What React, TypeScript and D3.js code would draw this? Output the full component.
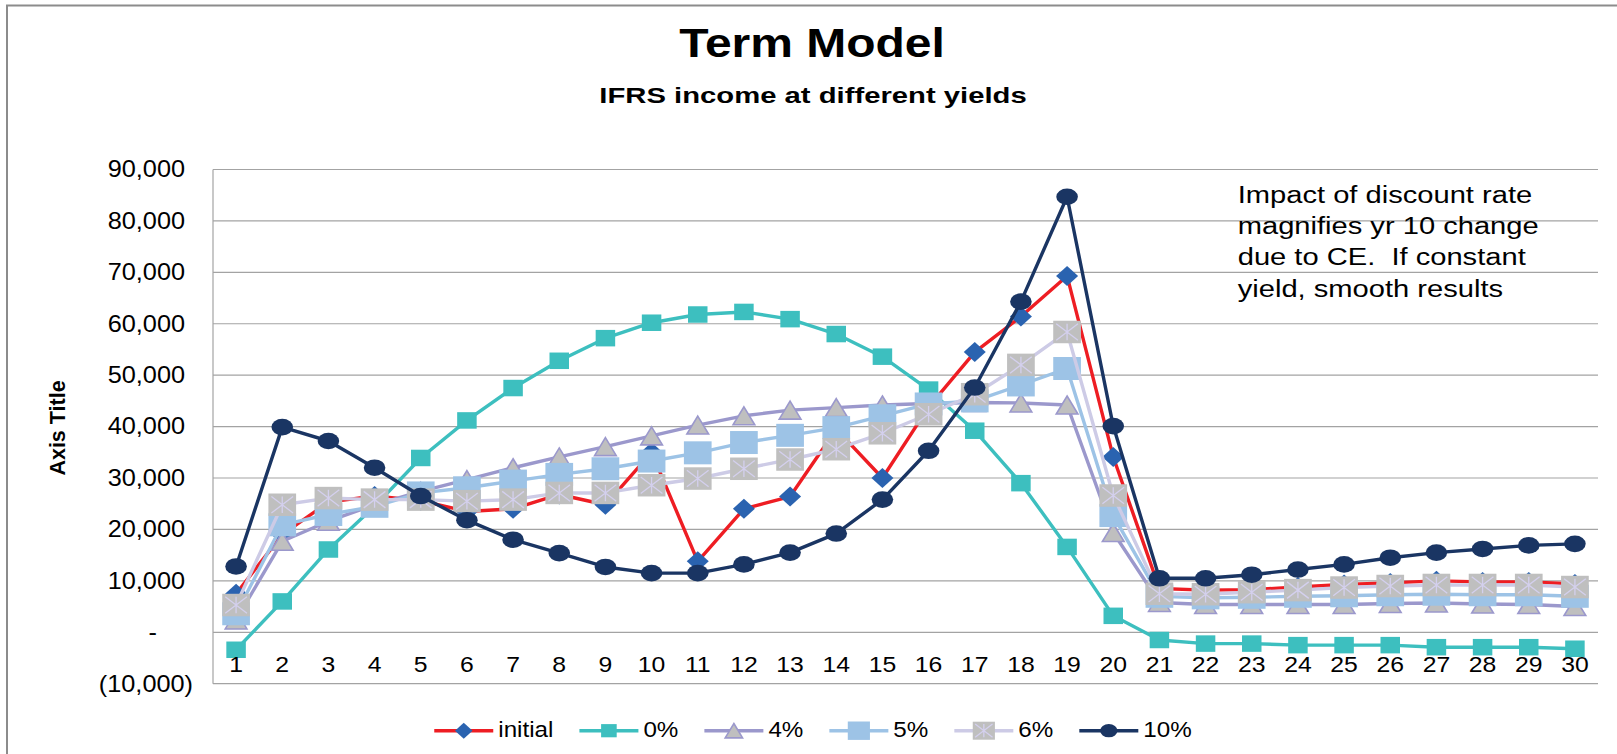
import React, { useEffect } from 'react';
import * as d3 from 'd3';

// ---------------- DATA ----------------
const categories = ['1','2','3','4','5','6','7','8','9','10','11','12','13','14','15','16','17','18','19','20','21','22','23','24','25','26','27','28','29','30'];

const seriesNames = ['initial', '0%', '4%', '5%', '6%', '10%'];

const initialVals = [7500, 19000, 25300, 26500, 25600, 23500, 24000, 26800, 24800, 35000, 13800, 24000, 26400, 39500, 30000, 43800, 54500, 61400, 69300, 34100, 8500, 8200, 8300, 8800, 9300, 9600, 10000, 9800, 9800, 9400];
const zeroVals = [-3400, 6000, 16100, 24500, 33900, 41200, 47500, 52800, 57200, 60200, 61800, 62300, 60900, 58000, 53600, 47200, 39200, 29000, 16600, 3200, -1500, -2200, -2200, -2500, -2500, -2500, -2900, -2900, -2900, -3200];
const fourVals = [2400, 17700, 21600, 24800, 27400, 29700, 32000, 34100, 36100, 38200, 40300, 42100, 43200, 43700, 44200, 44500, 44700, 44600, 44200, 19400, 5800, 5400, 5400, 5400, 5400, 5600, 5700, 5500, 5400, 5000];
const fiveVals = [3600, 20900, 22900, 24500, 27100, 28100, 29400, 30700, 31800, 33300, 34900, 36900, 38300, 39800, 42100, 44400, 45000, 48100, 51300, 22700, 7000, 6700, 6800, 7000, 7100, 7300, 7400, 7300, 7300, 7000];
const sixVals = [5300, 24800, 26100, 25800, 25800, 25500, 25800, 27100, 27100, 28600, 29900, 31800, 33600, 35600, 38700, 42400, 46300, 52000, 58400, 26600, 7500, 7400, 7800, 8200, 8700, 9000, 9200, 9200, 9200, 8800];
const tenVals = [12800, 39900, 37200, 32000, 26500, 21800, 18000, 15400, 12700, 11500, 11500, 13200, 15500, 19200, 25800, 35300, 47600, 64300, 84700, 40100, 10500, 10500, 11200, 12200, 13200, 14500, 15500, 16200, 16900, 17200];

const yTicks = [-10000, 0, 10000, 20000, 30000, 40000, 50000, 60000, 70000, 80000, 90000];
const yTickLabels = ['(10,000)', '-', '10,000', '20,000', '30,000', '40,000', '50,000', '60,000', '70,000', '80,000', '90,000'];

const titleText = 'Term Model';
const subtitleText = 'IFRS income at different yields';
const axisTitleText = 'Axis Title';
const noteLines = ['Impact of discount rate', 'magnifies yr 10 change', 'due to CE.  If constant', 'yield, smooth results'];

// ---------------- STYLES ----------------
const W = 1617, H = 754;
const FONT = '"Liberation Sans", Arial, Helvetica, sans-serif';
const PLOT = { left: 213, right: 1598, top: 169.5, bottom: 683.7 };

type Kind = 'diamond' | 'square0' | 'triangle' | 'square5' | 'square6' | 'circle';
const styles: { line: string; kind: Kind }[] = [
  { line: '#EE1D23', kind: 'diamond' },
  { line: '#3DBFBF', kind: 'square0' },
  { line: '#9B98CC', kind: 'triangle' },
  { line: '#9DC3E6', kind: 'square5' },
  { line: '#CDCBE6', kind: 'square6' },
  { line: '#1A3563', kind: 'circle' },
];
const seriesValues = [initialVals, zeroVals, fourVals, fiveVals, sixVals, tenVals];

function Marker({ kind, x, y, s = 1 }: { kind: Kind; x: number; y: number; s?: number }) {
  if (kind === 'diamond') {
    const w = 22 * s, h = 20 * s;
    return <path d={`M${x},${y - h / 2}L${x + w / 2},${y}L${x},${y + h / 2}L${x - w / 2},${y}Z`} fill="#2A63B0" />;
  }
  if (kind === 'square0') {
    const w = 19.5 * s, h = 16.5 * s;
    return <rect x={x - w / 2} y={y - h / 2} width={w} height={h} fill="#3DBFBF" />;
  }
  if (kind === 'triangle') {
    const w = 21.7 * s, h = 18 * s;
    return <path d={`M${x},${y - h / 2}L${x + w / 2},${y + h / 2}L${x - w / 2},${y + h / 2}Z`} fill="#BFBFBF" stroke="#9B98CC" strokeWidth={1.6} />;
  }
  if (kind === 'square5') {
    const w = 27.7 * s, h = 23 * s;
    return <rect x={x - w / 2} y={y - h / 2} width={w} height={h} fill="#9DC3E6" />;
  }
  if (kind === 'square6') {
    const w = 27.7 * s, h = 22.5 * s;
    const ix = w / 2 - 3 * s, iy = h / 2 - 3 * s;
    return (
      <g>
        <rect x={x - w / 2} y={y - h / 2} width={w} height={h} fill="#BFBFBF" />
        <path d={`M${x - ix},${y - iy}L${x + ix},${y + iy}M${x + ix},${y - iy}L${x - ix},${y + iy}M${x},${y - iy}L${x},${y + iy}`} stroke="#D4D0EE" strokeWidth={1.3} fill="none" />
      </g>
    );
  }
  return <ellipse cx={x} cy={y} rx={10.8 * s} ry={8.3 * s} fill="#1A3563" />;
}

function SText({ x, y, sx = 1, anchor = 'start', size, weight = 'normal', children }: any) {
  return (
    <text transform={`translate(${x},${y}) scale(${sx},1)`} textAnchor={anchor} fontSize={size} fontWeight={weight} fontFamily={FONT} fill="#000" style={{ whiteSpace: 'pre' }}>
      {children}
    </text>
  );
}

function measure(txt: string, size: number) {
  const c = document.createElement('canvas').getContext('2d');
  if (!c) return txt.length * size * 0.55;
  c.font = `${size}px "Liberation Sans", Arial, sans-serif`;
  return c.measureText(txt).width;
}

export default function App() {
  useEffect(() => {
    document.body.style.margin = '0';
    document.body.style.overflow = 'hidden';
  }, []);

  const x = d3.scaleBand<string>().domain(categories).range([PLOT.left, PLOT.right]);
  const cx = (c: string) => (x(c) as number) + x.bandwidth() / 2;
  const y = d3.scaleLinear().domain([yTicks[0], yTicks[yTicks.length - 1]]).range([PLOT.bottom, PLOT.top]);
  const line = d3.line<number>().x((_, i) => cx(categories[i])).y((d) => y(d));

  // legend layout
  const legSize = 22, legSx = 1.1, lineLen = 59, txtGap = 5, itemGap = 26;
  const widths = seriesNames.map((n) => measure(n, legSize) * legSx);
  const total = widths.reduce((a, b) => a + b, 0) + seriesNames.length * (lineLen + txtGap + itemGap) - itemGap;
  let lx = 813 - total / 2;
  const legY = 730.7;
  const legendItems = seriesNames.map((n, i) => {
    const x0 = lx;
    lx += lineLen + txtGap + widths[i] + itemGap;
    return { n, i, x0 };
  });

  return (
    <svg width={W} height={H} style={{ position: 'absolute', left: 0, top: 0, background: '#fff' }}>
      <rect x={0} y={0} width={W} height={H} fill="#fff" />
      <path d={`M7,${H}V5.5H${W}`} stroke="#8C8C8C" strokeWidth={2} fill="none" />

      {/* gridlines */}
      {yTicks.map((t) => (
        <line key={t} x1={PLOT.left} x2={PLOT.right} y1={y(t)} y2={y(t)} stroke="#A3A3A3" strokeWidth={1.2} />
      ))}
      <line x1={PLOT.left} x2={PLOT.left} y1={PLOT.top} y2={PLOT.bottom} stroke="#A3A3A3" strokeWidth={1.2} />

      {/* y tick labels */}
      {yTicks.map((t, i) => {
        const lab = yTickLabels[i];
        const xr = lab.startsWith('(') ? 193 : lab === '-' ? 157 : 185;
        return (
          <SText key={t} x={xr} y={y(t) + 7.8} sx={1.1} anchor="end" size={23}>
            {lab}
          </SText>
        );
      })}

      {/* series */}
      {seriesValues.map((vals, si) => (
        <g key={seriesNames[si]}>
          <path d={line(vals) || ''} fill="none" stroke={styles[si].line} strokeWidth={3.4} strokeLinejoin="round" />
          {vals.map((v, i) => (
            <Marker key={i} kind={styles[si].kind} x={cx(categories[i])} y={y(v)} />
          ))}
        </g>
      ))}

      {/* x labels */}
      {categories.map((c) => (
        <SText key={c} x={cx(c)} y={671.7} sx={1.1} anchor="middle" size={22.5}>
          {c}
        </SText>
      ))}

      {/* titles */}
      <SText x={812} y={56.7} sx={1.2} anchor="middle" size={40} weight="bold">{titleText}</SText>
      <SText x={813} y={102.7} sx={1.33} anchor="middle" size={22} weight="bold">{subtitleText}</SText>

      {/* axis title */}
      <text transform="translate(65,428) rotate(-90)" textAnchor="middle" fontSize={21.5} fontWeight="bold" fontFamily={FONT}>
        {axisTitleText}
      </text>

      {/* annotation */}
      {noteLines.map((t, i) => (
        <SText key={i} x={1237.7} y={202.7 + i * 31.3} sx={1.25} size={23.3}>
          {t}
        </SText>
      ))}

      {/* legend */}
      {legendItems.map(({ n, i, x0 }) => (
        <g key={n}>
          <line x1={x0} x2={x0 + lineLen} y1={legY} y2={legY} stroke={styles[i].line} strokeWidth={3.4} />
          <Marker kind={styles[i].kind} x={x0 + lineLen / 2} y={legY} s={0.8} />
          <SText x={x0 + lineLen + txtGap} y={736.5} sx={legSx} size={legSize}>
            {n}
          </SText>
        </g>
      ))}
    </svg>
  );
}
